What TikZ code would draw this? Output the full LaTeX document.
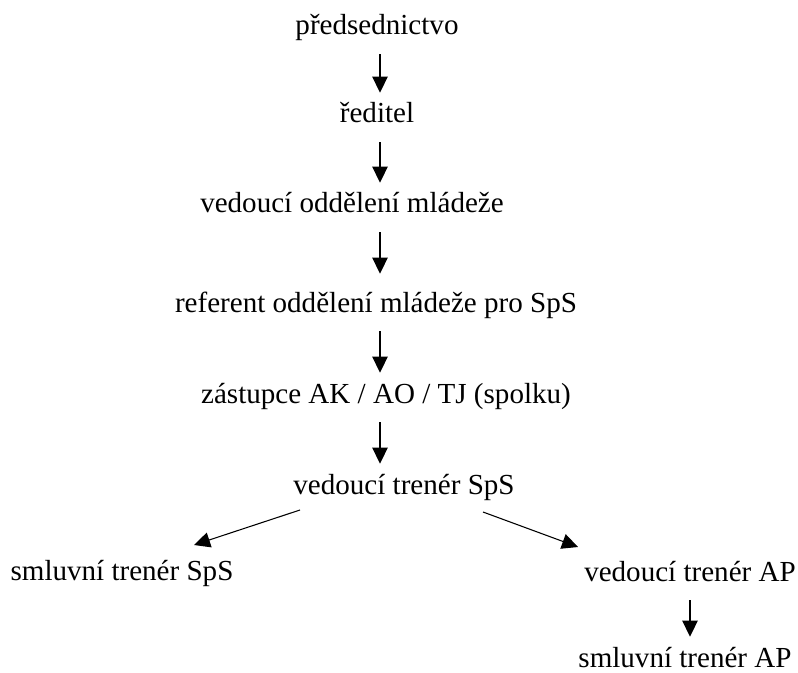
\documentclass[tikz,border=0pt]{standalone}
\usepackage{fontspec}
\setmainfont{Liberation Serif}
\usetikzlibrary{arrows.meta}
\begin{document}
\begin{tikzpicture}[x=0.75pt,y=-0.75pt,
 lbl/.style={font=\fontsize{21.8pt}{26pt}\selectfont, inner sep=0pt, text height=22.5pt, text depth=14.25pt, anchor=base},
 conn/.style={-{Triangle[width=11.5pt,length=12pt]}, line width=0.8pt}]
\useasboundingbox (0,0) rectangle (798,673);
\coordinate (ax) at (380,0);
\coordinate (bx) at (690,0);
\node[lbl] (p) at (377,35) {předsednictvo};
\node[lbl] (r) at (377,123) {ředitel};
\node[lbl] (vo) at (352,213) {vedoucí oddělení mládeže};
\node[lbl] (ref) at (376,312) {referent oddělení mládeže pro SpS};
\node[lbl] (z) at (386,403) {zástupce AK / AO / TJ (spolku)};
\node[lbl] (vts) at (404,494) {vedoucí trenér SpS};
\node[lbl] (sts) at (122,580) {smluvní trenér SpS};
\node[lbl] (vap) at (690,581) {vedoucí trenér AP};
\node[lbl] (sap) at (685,667) {smluvní trenér AP};
\coordinate (dl1) at (300,510);
\coordinate (dl2) at (194,545);
\coordinate (dr1) at (483,512);
\coordinate (dr2) at (578,547);
\draw[conn] (p.south -| ax) -- (r.north -| ax);
\draw[conn] (r.south -| ax) -- (vo.north -| ax);
\draw[conn, shorten >=6pt] (vo.south -| ax) -- (ref.north -| ax);
\draw[conn] (ref.south -| ax) -- (z.north -| ax);
\draw[conn] (z.south -| ax) -- (vts.north -| ax);
\draw[conn] (dl1) -- (dl2);
\draw[conn] (dr1) -- (dr2);
\draw[conn] (vap.south -| bx) -- (sap.north -| bx);
\end{tikzpicture}
\end{document}
